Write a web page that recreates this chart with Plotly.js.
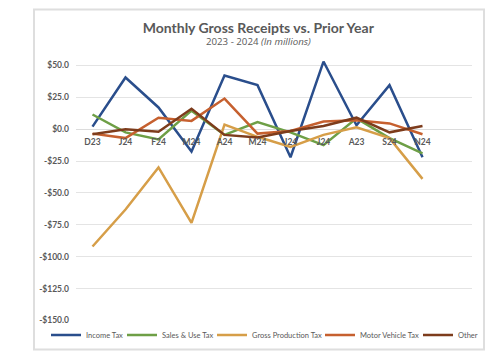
<!DOCTYPE html>
<html>
<head>
<meta charset="utf-8">
<script src="https://cdn.plot.ly/plotly-3.0.1.min.js"></script>
<style>
html,body{margin:0;padding:0;background:#fff;}
#chart{width:491px;height:357px;}
</style>
</head>
<body>
<div id="chart"></div>
<script>
// Category labels (month abbreviations as shown on the chart)
const monthLabels = ["D23","J24","F24","M24","A24","M24","J24","J24","A23","S24","N24"];
const seriesNames = ["Income Tax","Sales & Use Tax","Gross Production Tax","Motor Vehicle Tax","Other"];

// Values ($ millions, difference vs. prior year)
const incomeTax      = [2.0, 40.5, 17.0, -17.5, 42.0, 34.5, -22.0, 53.0, 3.0, 34.5, -22.0];
const salesUseTax    = [11.5, -2.5, -8.0, 14.5, -4.5, 5.5, -2.5, -12.5, 8.5, -7.0, -19.0];
const grossProdTax   = [-92.0, -63.0, -30.0, -73.5, 3.5, -6.0, -14.0, -4.5, 1.5, -7.0, -39.0];
const motorVehTax    = [-3.5, -7.0, 9.0, 6.5, 24.0, -3.5, -1.5, 6.0, 7.0, 4.5, -4.0];
const otherTax       = [-4.0, 0.0, -2.0, 16.0, -4.5, -6.5, -1.5, 2.5, 9.0, -2.5, 2.5];

const yTickVals  = [50, 25, 0, -25, -50, -75, -100, -125, -150];
const yTickText  = ["$50.0","$25.0","$0.0","-$25.0","-$50.0","-$75.0","-$100.0","-$125.0","-$150.0"];

const colors = ["#2A4E8C","#6E9F46","#D69E48","#C6602F","#7D3C1C"];
const allSeries = [incomeTax, salesUseTax, grossProdTax, motorVehTax, otherTax];
const xIdx = monthLabels.map((_, i) => i);
const legendIds = ["legend","legend2","legend3","legend4","legend5"];
const legendLeftPx = [46, 122, 212, 320, 418];

const traces = allSeries.map((vals, k) => ({
  type: "scatter",
  mode: "lines",
  name: seriesNames[k],
  legend: legendIds[k],
  x: xIdx,
  y: vals,
  line: {color: colors[k], width: 2.5},
  hoverinfo: "skip"
}));

// plot geometry (px)
const L = 76, R = 472, T = 58.6, B = 321;
const W = R - L, H = B - T;
const yMin = -150, yMax = 55;
const px = v => (v - L) / W;
const py = v => (B - v) / H;

const gray = "#595959";
const layout = {
  width: 491, height: 357,
  margin: {l: L, r: 491 - R, t: T, b: 357 - B},
  paper_bgcolor: "#ffffff",
  plot_bgcolor: "#ffffff",
  showlegend: true,
  font: {family: "Lato, 'Open Sans', sans-serif", color: gray},
  title: {
    text: "<b>Monthly Gross Receipts vs. Prior Year</b>",
    font: {family: "Lato, sans-serif", size: 14, color: gray},
    x: 0.526, xref: "container", xanchor: "center",
    y: 0.922, yref: "container", yanchor: "middle"
  },
  annotations: [{
    text: "2023 - 2024 <i>(In millions)</i>",
    xref: "paper", yref: "paper",
    x: px(258), y: py(41),
    xanchor: "center", yanchor: "middle",
    showarrow: false,
    font: {family: "'Open Sans', sans-serif", size: 9.7, color: gray}
  }],
  xaxis: {
    range: [-0.5, 11.5],
    tickmode: "array",
    tickvals: xIdx,
    ticktext: monthLabels,
    anchor: "free",
    position: (0 - yMin) / (yMax - yMin),
    showgrid: false,
    zeroline: false,
    showline: false,
    ticks: "",
    ticklabelstandoff: 6,
    tickfont: {family: "Lato, sans-serif", size: 8.5, color: gray, weight: "bold"},
    fixedrange: true
  },
  yaxis: {
    range: [yMin, yMax],
    tickmode: "array",
    tickvals: yTickVals,
    ticktext: yTickText,
    showgrid: true,
    gridcolor: "#e4e4e4",
    gridwidth: 1,
    zeroline: true,
    zerolinecolor: "#dcdcdc",
    zerolinewidth: 1,
    showline: false,
    ticks: "",
    ticklabelstandoff: 6,
    tickfont: {family: "Lato, sans-serif", size: 8.5, color: gray, weight: "bold"},
    fixedrange: true
  },
  shapes: [{
    type: "rect", xref: "paper", yref: "paper",
    x0: px(34), x1: px(484),
    y0: py(350), y1: py(9),
    line: {color: "#dedede", width: 2},
    fillcolor: "rgba(0,0,0,0)",
    layer: "below"
  }]
};

legendIds.forEach((id, k) => {
  layout[id] = {
    orientation: "h",
    xref: "container", yref: "container",
    x: legendLeftPx[k] / 491, xanchor: "left",
    y: (357 - 335) / 357, yanchor: "middle",
    font: {family: "Lato, sans-serif", size: 7.5, color: gray},
    itemwidth: 30,
    bgcolor: "rgba(0,0,0,0)",
    borderwidth: 0
  };
});

Plotly.newPlot("chart", traces, layout, {staticPlot: true, displayModeBar: false});
</script>
</body>
</html>
